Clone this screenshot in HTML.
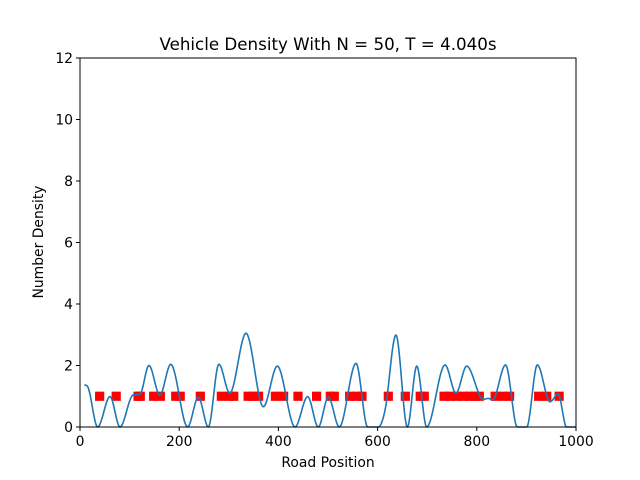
<!DOCTYPE html>
<html><head><meta charset="utf-8"><style>
body{margin:0;background:#fff;}
svg{display:block;font-family:"DejaVu Sans","Liberation Sans",sans-serif;}
</style></head><body>
<svg id="chart" width="640" height="480" viewBox="0 0 640 480">
<rect x="0" y="0" width="640" height="480" fill="#fff"/>
<g id="plot"></g>
<text x="328" y="50" font-size="16.7" text-anchor="middle">Vehicle Density With N = 50, T = 4.040s</text>
<text x="328" y="467" font-size="13.9" text-anchor="middle">Road Position</text>
<text x="0" y="0" font-size="13.9" text-anchor="middle" transform="translate(43,242) rotate(-90)">Number Density</text>
</svg>
<script>
const curveX=[8.7,15.5,35.6,60.5,80.6,107,121,139,161,183,217,238.6,258.7,280,302,334.7,369.6,397.8,433.5,459,480.4,500.7,522.8,556.5,580,601.5,615,637,660,679,699,736,758,779.6,813,823,832,858,881.7,900.6,922,947.6,964,981,1000];
const curveY=[1.37,1.31,0,0.99,0,1.04,1.07,2.0,1.04,2.04,0,0.97,0,2.04,1.1,3.05,0.66,1.98,0,0.99,0,0.97,0,2.07,0,0,0.55,2.99,0,1.98,0,2.02,1.1,1.98,0.9,0.93,0.88,2.02,0,0,2.02,0.82,1.07,0,0];
const vehicles=[39.6,73,117,121.5,148.5,162,193,202,242.6,285,301,310,339,349,360,394,410.5,439.5,477,504.7,512.7,543.7,557.8,568.5,621.6,655.9,686,694,734,746,759.5,773,786,796,805,837,852,866,924.7,941,966];
const xTicks=[0,200,400,600,800,1000];
const yTicks=[0,2,4,6,8,10,12];
const X0=80,X1=576,Y0=427,Y1=58;
const sx=v=>X0+(v-0)/(1000-0)*(X1-X0);
const sy=v=>Y0-(v-0)/(12-0)*(Y0-Y1);
const NS="http://www.w3.org/2000/svg";
const plot=document.getElementById('plot');
function mk(t,a){const e=document.createElementNS(NS,t);for(const k in a)e.setAttribute(k,a[k]);plot.appendChild(e);return e;}
const cx=curveX.slice(0,Math.min(curveX.length,curveY.length)), cy=curveY.slice(0,cx.length);
const n=cx.length, d=[], m=[];
for(let i=0;i<n-1;i++)d.push((cy[i+1]-cy[i])/(cx[i+1]-cx[i]));
for(let i=0;i<n;i++){
 if(i==0)m.push(d[0]);else if(i==n-1)m.push(d[n-2]);
 else m.push(d[i-1]*d[i]<=0?0:(d[i-1]+d[i])/2);
}
for(let i=0;i<n-1;i++){ if(d[i]==0){m[i]=0;m[i+1]=0;continue;}
 const a=m[i]/d[i],b=m[i+1]/d[i],s=a*a+b*b; if(s>9){const t=3/Math.sqrt(s);m[i]=t*a*d[i];m[i+1]=t*b*d[i];}}
let p='';
for(let i=0;i<n-1;i++){const h=cx[i+1]-cx[i];
 for(let k=0;k<=20;k++){const t=k/20,t2=t*t,t3=t2*t;
  const y=(2*t3-3*t2+1)*cy[i]+(t3-2*t2+t)*h*m[i]+(-2*t3+3*t2)*cy[i+1]+(t3-t2)*h*m[i+1];
  const x=cx[i]+t*h; p+=(p?'L':'M')+sx(x).toFixed(2)+','+sy(Math.max(y,0)).toFixed(2);}}
vehicles.forEach(v=>{
 const r=mk('rect',{x:sx(v)-4.6,y:sy(1)-4.6,width:9.2,height:9.2,fill:'#ff0000'});
 
 
});
const line=mk('path',{d:p,fill:'none',stroke:'#1f77b4','stroke-width':1.6});


const frame=mk('rect',{x:X0,y:Y1,width:X1-X0,height:Y0-Y1,fill:'none',stroke:'#000','stroke-width':1});


xTicks.forEach(v=>{
 const t=mk('line',{x1:sx(v),x2:sx(v),y1:Y0,y2:Y0+4,stroke:'#000'});
 
 
 const l=mk('text',{x:sx(v),y:Y0+19,'font-size':13.9,'text-anchor':'middle'});l.textContent=v;
 
 
});
yTicks.forEach(v=>{
 const t=mk('line',{x1:X0-4,x2:X0,y1:sy(v),y2:sy(v),stroke:'#000'});
 
 
 const l=mk('text',{x:X0-7,y:sy(v)+5,'font-size':13.9,'text-anchor':'end'});l.textContent=v;
 
 
});
</script>
</body></html>
